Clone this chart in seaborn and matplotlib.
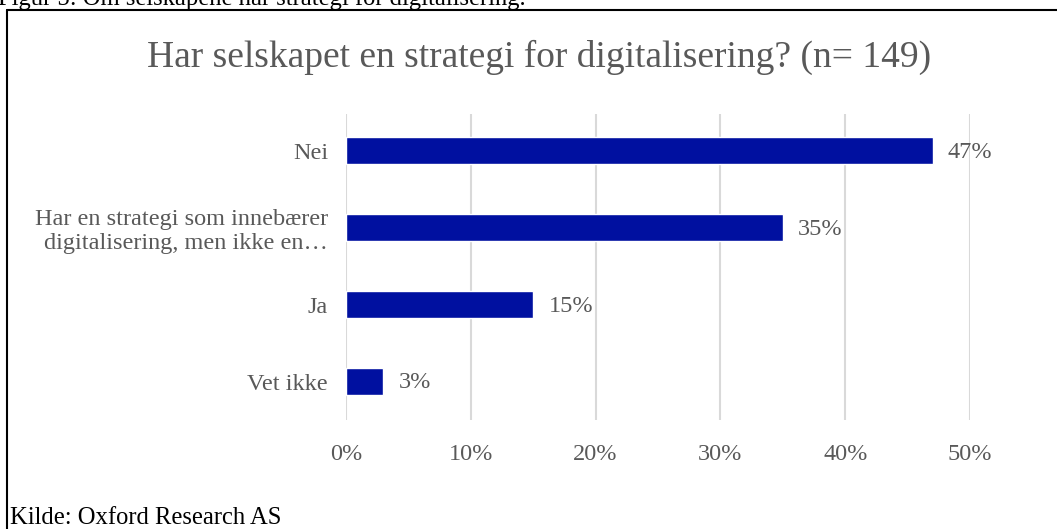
import matplotlib
matplotlib.use("Agg")
import matplotlib.pyplot as plt
from matplotlib.lines import Line2D
import seaborn as sns
import pandas as pd

categories = ["Nei",
              "Har en strategi som innebærer\ndigitalisering, men ikke en…",
              "Ja",
              "Vet ikke"]
shares = [0.47, 0.35, 0.15, 0.03]
value_labels = ["47%", "35%", "15%", "3%"]
x_ticks = [0.0, 0.1, 0.2, 0.3, 0.4, 0.5]
x_tick_labels = ["0%", "10%", "20%", "30%", "40%", "50%"]

title = "Har selskapet en strategi for digitalisering? (n= 149)"
caption = "Figur 5: Om selskapene har strategi for digitalisering."
source = "Kilde: Oxford Research AS"

sns.set_theme(style="white")
plt.rcParams["font.family"] = ["Liberation Serif", "DejaVu Serif"]

W, H = 1057, 529
fig = plt.figure(figsize=(W / 100, H / 100), dpi=100)
ax = fig.add_axes([346 / W, 1 - 420 / H, (970 - 346) / W, (420 - 114) / H])

df = pd.DataFrame({"kategori": categories, "andel": shares})
sns.barplot(data=df, x="andel", y="kategori", orient="h", color="#0010A0",
            saturation=1, width=0.35, ax=ax)

ax.set_xlim(0, 0.5)
ax.set_ylim(3.5, -0.48)
ax.set_xticks(x_ticks)
ax.set_xticklabels(x_tick_labels)
ax.set_xlabel("")
ax.set_ylabel("")
ax.grid(axis="x", color="#D9D9D9", linewidth=1.5)
ax.set_axisbelow(True)
for s in ax.spines.values():
    s.set_visible(False)
label_size = 17.5
ax.tick_params(axis="x", length=0, pad=17, labelsize=label_size, labelcolor="#595959")
ax.tick_params(axis="y", length=0, pad=13, labelsize=label_size, labelcolor="#595959")
for lbl in ax.get_yticklabels():
    lbl.set_linespacing(1.2)

for i, (v, t) in enumerate(zip(shares, value_labels)):
    ax.annotate(t, xy=(v, i), xytext=(11, -1), textcoords="offset points",
                va="center", ha="left", fontsize=label_size, color="#595959")

fig.text(539 / W, 1 - 57 / H, title, ha="center", va="center",
         fontsize=27, color="#595959")
fig.text(-2 / W, 1 - 5 / H, caption, ha="left", va="baseline",
         fontsize=17.7, color="black")
fig.text(10 / W, 1 - 524 / H, source, ha="left", va="baseline",
         fontsize=17.7, color="black")

# frame around the chart area
fig.add_artist(Line2D([7 / W, 7 / W], [0, 1 - 10 / H], color="black",
                      linewidth=1.5, transform=fig.transFigure))
fig.add_artist(Line2D([7 / W, 1], [1 - 10 / H, 1 - 10 / H], color="black",
                      linewidth=1.5, transform=fig.transFigure))

fig.savefig("out.png", dpi=100)
